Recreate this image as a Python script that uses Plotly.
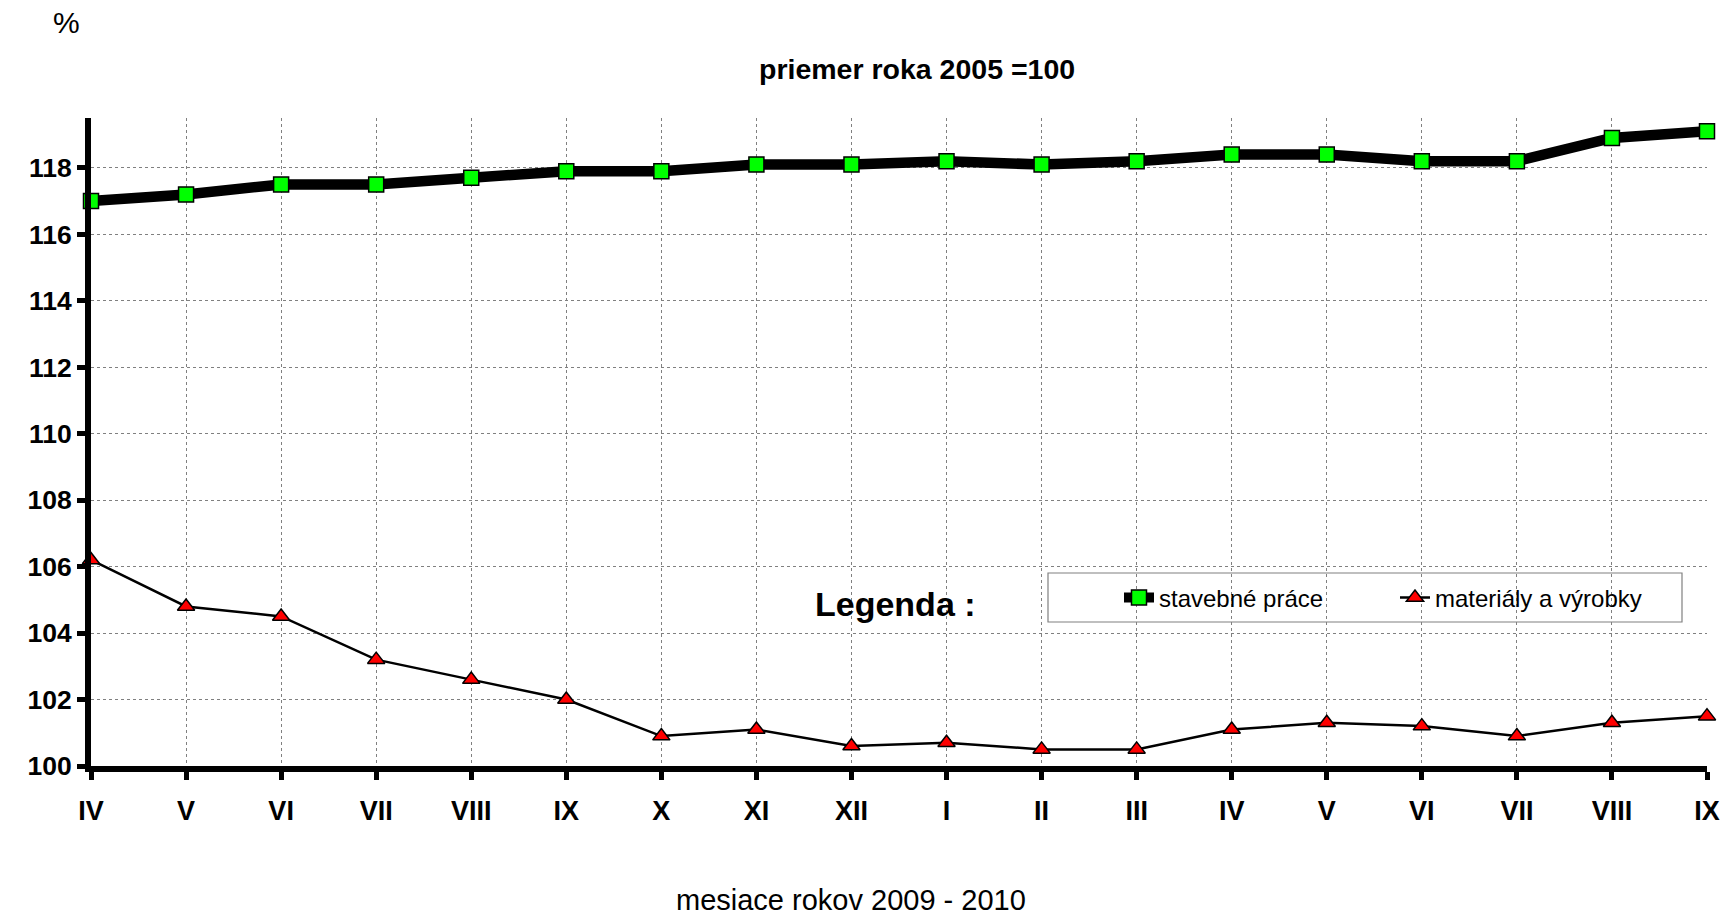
import plotly.graph_objects as go

months = ["IV", "V", "VI", "VII", "VIII", "IX", "X", "XI", "XII",
          "I", "II", "III", "IV", "V", "VI", "VII", "VIII", "IX"]
stavebne_prace = [117.0, 117.2, 117.5, 117.5, 117.7, 117.9, 117.9, 118.1, 118.1,
                  118.2, 118.1, 118.2, 118.4, 118.4, 118.2, 118.2, 118.9, 119.1]
materialy_vyrobky = [106.2, 104.8, 104.5, 103.2, 102.6, 102.0, 100.9, 101.1, 100.6,
                     100.7, 100.5, 100.5, 101.1, 101.3, 101.2, 100.9, 101.3, 101.5]
y_ticks = [100, 102, 104, 106, 108, 110, 112, 114, 116, 118]

x = list(range(len(months)))
FONT = "Liberation Sans, Arial, sans-serif"

# plot area in pixels: left 91, right 1707, top 118, bottom 766
L, R, T, B = 91, 1707, 118, 766
W, H = R - L, B - T


def px(xp):
    return (xp - L) / W


def py(yp):
    return (B - yp) / H


fig = go.Figure()
fig.add_trace(go.Scatter(
    x=x, y=stavebne_prace, name="stavebné práce", mode="lines+markers",
    line=dict(color="black", width=10.5),
    marker=dict(symbol="square", size=15, color="#00FF00",
                line=dict(color="black", width=1.5)),
    cliponaxis=False,
))
fig.add_trace(go.Scatter(
    x=x, y=materialy_vyrobky, name="materiály a výrobky", mode="lines+markers",
    line=dict(color="black", width=2.5),
    marker=dict(symbol="triangle-up", size=15, color="#FF0000",
                line=dict(color="black", width=1.5)),
    cliponaxis=False,
))

fig.update_layout(
    width=1733, height=915,
    paper_bgcolor="white", plot_bgcolor="white",
    margin=dict(l=L, r=1733 - R, t=T, b=915 - B, pad=0),
    font=dict(family=FONT, color="black"),
    showlegend=True,
    legend=dict(
        orientation="h", x=px(1119), y=py(598), xanchor="left", yanchor="middle",
        borderwidth=0, bgcolor="rgba(0,0,0,0)",
        font=dict(size=24, family=FONT), entrywidth=231,
    ),
    xaxis=dict(
        range=[0, len(months) - 1], tickmode="array", tickvals=x, ticktext=months,
        showgrid=True, gridcolor="#808080", griddash="dot", gridwidth=1,
        showline=True, linecolor="black", linewidth=6,
        ticks="outside", ticklen=8, tickwidth=5, tickcolor="black",
        tickfont=dict(size=27, family=FONT, weight="bold"),
        ticklabelstandoff=8,
        zeroline=False,
    ),
    yaxis=dict(
        range=[100, 119.5], tickmode="array", tickvals=y_ticks,
        showgrid=True, gridcolor="#808080", griddash="dot", gridwidth=1,
        showline=True, linecolor="black", linewidth=6,
        ticks="outside", ticklen=8, tickwidth=5, tickcolor="black",
        tickfont=dict(size=26.5, family=FONT, weight="bold"),
        zeroline=False,
    ),
    shapes=[
        dict(type="rect", xref="paper", yref="paper",
             x0=px(1048), x1=px(1682), y0=py(622), y1=py(573),
             line=dict(color="#808080", width=1.2), fillcolor="rgba(0,0,0,0)",
             layer="above"),
    ],
    annotations=[
        dict(text="%", x=px(66), y=py(23), xref="paper", yref="paper",
             xanchor="center", yanchor="middle",
             showarrow=False, font=dict(size=30, family=FONT)),
        dict(text="<b>priemer roka 2005 =100</b>", x=px(917), y=py(68.5),
             xref="paper", yref="paper", xanchor="center", yanchor="middle",
             showarrow=False, font=dict(size=28.5, family=FONT)),
        dict(text="mesiace rokov 2009 - 2010", x=px(851), y=py(900),
             xref="paper", yref="paper", xanchor="center", yanchor="middle",
             showarrow=False, font=dict(size=29, family=FONT)),
        dict(text="<b>Legenda :</b>", x=px(895), y=py(604), xref="paper", yref="paper",
             xanchor="center", yanchor="middle",
             showarrow=False, font=dict(size=34, family=FONT)),
    ],
)

fig.write_html("out.html", config={"displayModeBar": False},
               post_script="document.body.style.margin='0px';")
